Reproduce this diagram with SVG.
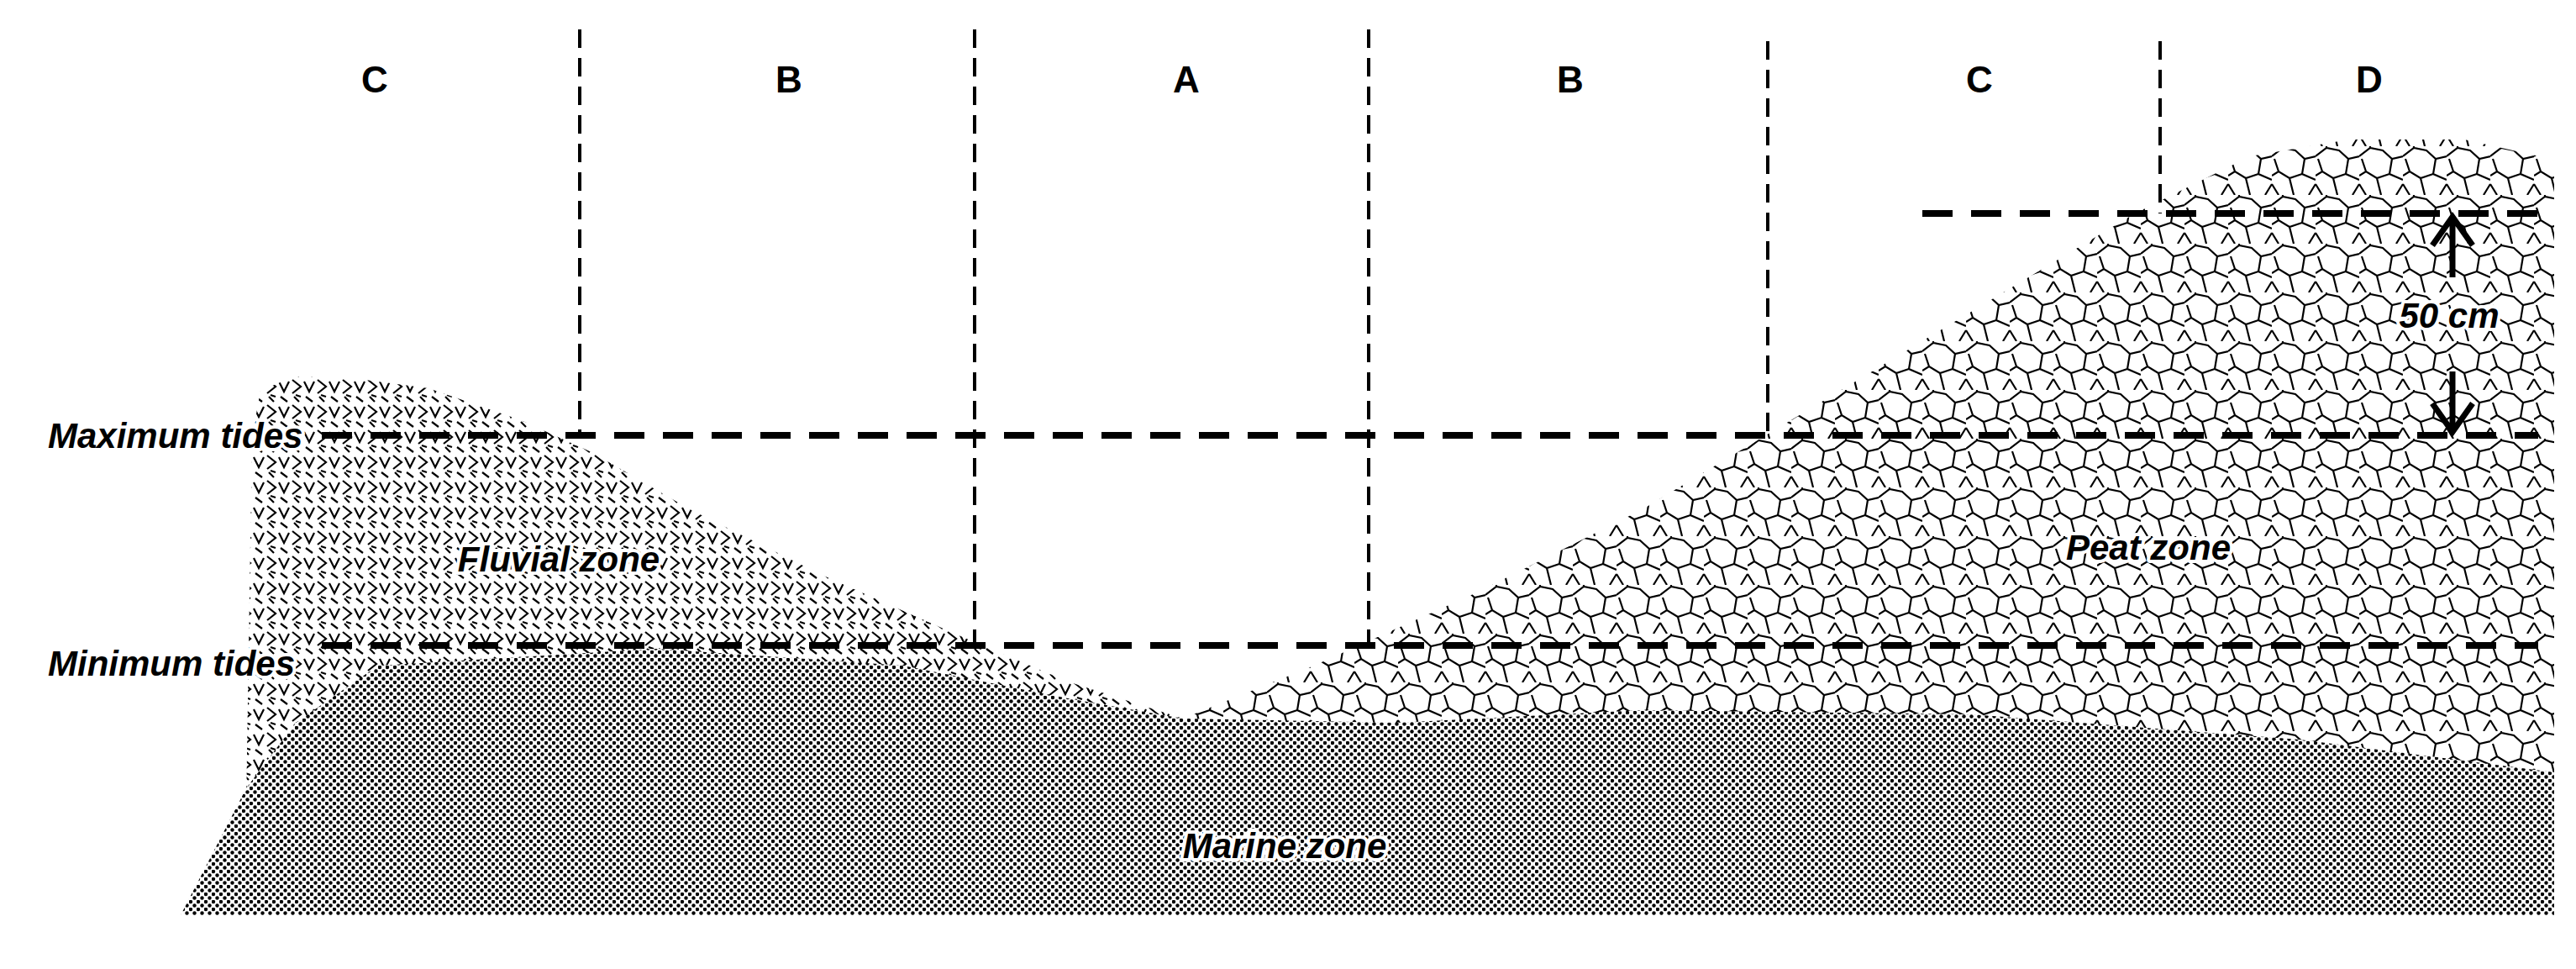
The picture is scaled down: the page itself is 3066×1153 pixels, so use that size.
<svg xmlns="http://www.w3.org/2000/svg" width="3066" height="1153" viewBox="0 0 3066 1153">
<style>
.h{stroke:#000;stroke-width:8;stroke-dasharray:36 22;fill:none}
.v{stroke:#000;stroke-width:4;stroke-dasharray:22 12;fill:none}
.t{font-family:"Liberation Sans",Arial,sans-serif;font-weight:bold;font-style:italic;font-size:42px;paint-order:stroke;stroke:#fff;stroke-width:8;stroke-linejoin:round}
.L{font-family:"Liberation Sans",Arial,sans-serif;font-weight:bold;font-size:44px;text-anchor:middle}
</style>
<defs>
<pattern id="dots" width="9" height="9" patternUnits="userSpaceOnUse">
<rect width="9" height="9" fill="#fff"/>
<circle cx="2" cy="2" r="2.2"/><circle cx="6.5" cy="6.5" r="2.2"/>
</pattern>
<pattern id="fl" width="30" height="30" patternUnits="userSpaceOnUse">
<rect width="30" height="30" fill="#fff"/>
<path d="M2 4 L8 16 L14 4 M18 2 L28 10 L18 18 M4 22 L12 28 M20 22 L26 28 M22 20 L28 22" stroke="#000" stroke-width="2.2" fill="none"/>
</pattern>
<pattern id="pt" width="52" height="58" patternUnits="userSpaceOnUse">
<rect width="52" height="58" fill="#fff"/>
<path d="M0 12 L13 2 L28 5 L39 15 L52 12 M13 2 L13 -4 M39 15 L36 33 L52 40 M36 33 L21 38 L8 30 L0 35 M8 30 L3 15 M21 38 L26 58 M0 45 L8 58 M52 45 L44 58" stroke="#000" stroke-width="2.2" fill="none"/>
</pattern>
</defs>
<g id="fluvial"><polygon fill="url(#fl)" points="293,960 300,520 310,465 350,448 420,450 510,462 620,500 704,538 821,606 978,684 1134,753 1271,811 1408,855 1408,900"/></g>
<g id="peat"><polygon fill="url(#pt)" points="1408,900 1408,855 1564,792 1760,704 1955,606 2150,489 2346,371 2541,254 2678,186 2796,166 2933,166 3040,190 3040,950"/></g>
<g id="marine"><polygon fill="url(#dots)" points="215,1089 293,938 352,860 450,792 782,772 1075,792 1271,831 1408,855 1662,860 1955,845 2346,850 2737,880 3040,919 3040,1089"/></g>
<g id="lines">
<line class="h" x1="383" y1="518" x2="3021" y2="518"/>
<line class="h" x1="383" y1="768" x2="3021" y2="768"/>
<line class="h" x1="2288" y1="254" x2="3021" y2="254"/>
<line class="v" x1="690" y1="35" x2="690" y2="518"/>
<line class="v" x1="1160" y1="35" x2="1160" y2="768"/>
<line class="v" x1="1629" y1="35" x2="1629" y2="768"/>
<line class="v" x1="2104" y1="49" x2="2104" y2="518"/>
<line class="v" x1="2571" y1="49" x2="2571" y2="254"/>
<path d="M2919 330 V258 M2919 442 V514 M2895 292 L2919 258 L2943 292 M2895 480 L2919 514 L2943 480" stroke="#000" stroke-width="7" fill="none"/>
</g>
<g id="labels">
<text class="L" x="446" y="110">C</text>
<text class="L" x="939" y="110">B</text>
<text class="L" x="1412" y="110">A</text>
<text class="L" x="1869" y="110">B</text>
<text class="L" x="2356" y="110">C</text>
<text class="L" x="2820" y="110">D</text>
<text class="t" x="57" y="533">Maximum tides</text>
<text class="t" x="57" y="804">Minimum tides</text>
<text class="t" x="665" y="680" text-anchor="middle">Fluvial zone</text>
<text class="t" x="2557" y="666" text-anchor="middle">Peat zone</text>
<text class="t" x="1529" y="1021" text-anchor="middle">Marine zone</text>
<text class="t" x="2915" y="390" text-anchor="middle">50 cm</text>
</g>
</svg>
